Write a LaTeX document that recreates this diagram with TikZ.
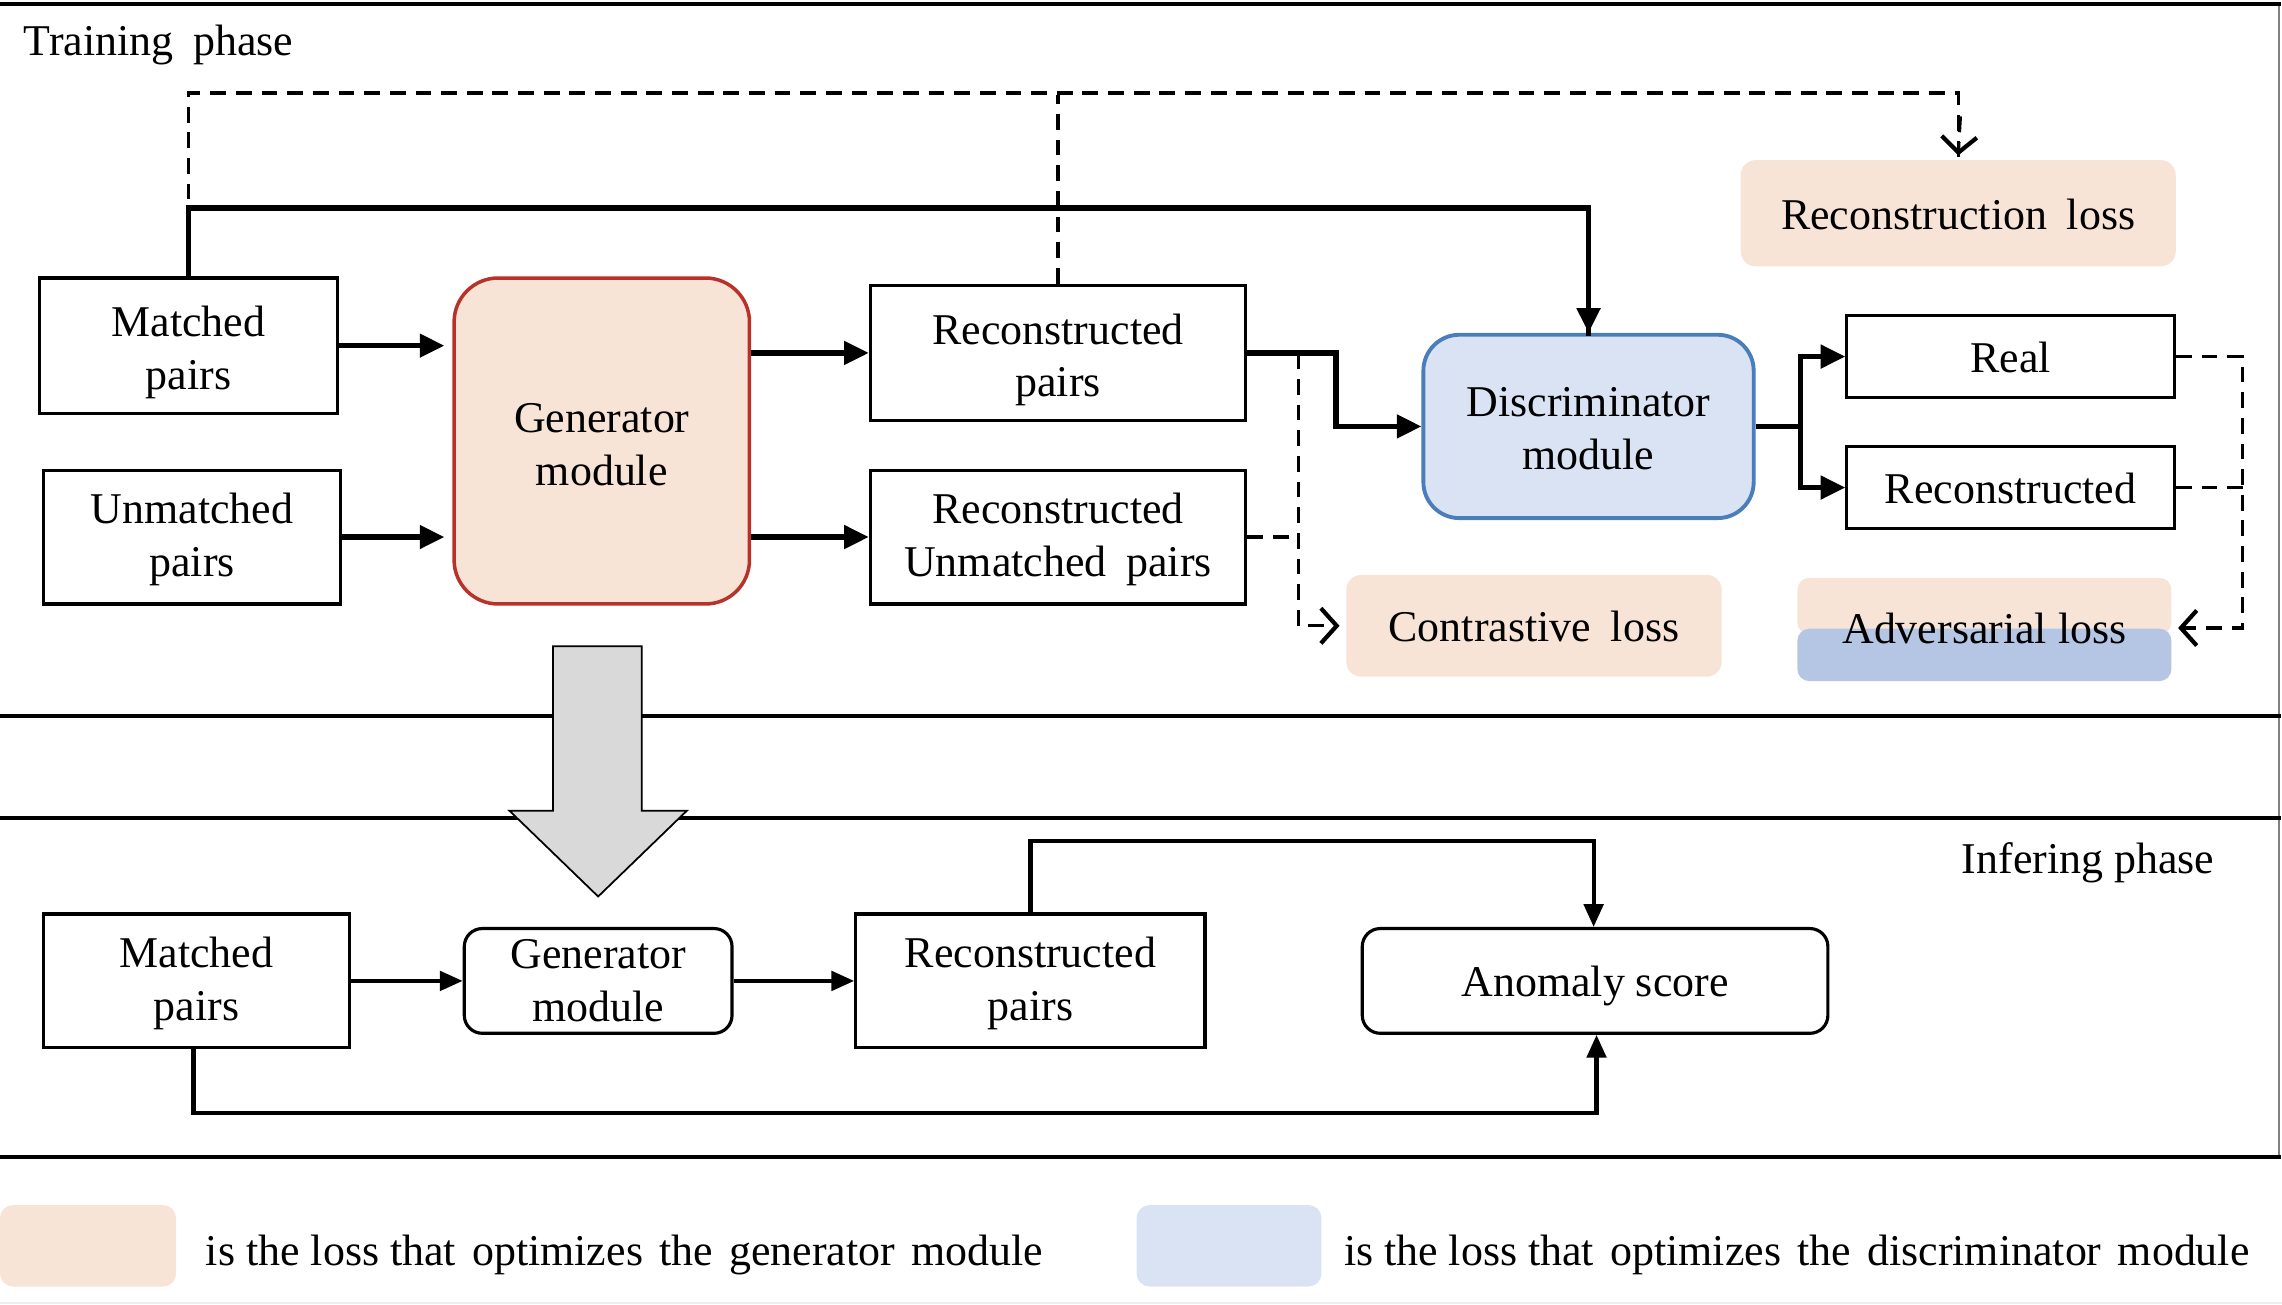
\documentclass[tikz,border=0pt]{standalone}
\usepackage{fontspec}
\setmainfont{Liberation Serif}
\usetikzlibrary{arrows.meta}
\newlength{\pxu}\setlength{\pxu}{0.14554mm}
\newcommand{\wsp}{\hspace{0.45em}}
\newcommand{\lsp}{\hspace{0.37em}}
\newcommand{\fstr}[1]{\rule{0pt}{#1}}
\definecolor{peach}{HTML}{F7E4D7}
\definecolor{genred}{HTML}{B8322A}
\definecolor{lblue}{HTML}{DAE3F3}
\definecolor{dblue}{HTML}{4A7EBB}
\definecolor{advblue}{HTML}{B4C6E4}
\definecolor{arrgray}{HTML}{D9D9D9}
\tikzset{
  every node/.style={font=\fontsize{12.5}{15}\selectfont, inner sep=0pt, align=center},
  one/.style={text height=11pt, text depth=2pt},
  box/.style={draw, line width=0.9pt},
  genbox/.style={draw=genred, fill=peach, line width=1pt, rounded corners=4.4mm},
  discbox/.style={draw=dblue, fill=lblue, line width=1.1pt, rounded corners=3.6mm},
  smallround/.style={draw, line width=0.9pt, rounded corners=1.8mm},
  lossbox/.style={fill=peach, rounded corners=1.5mm},
  arr/.style={line width=1.5pt, -{Triangle[length=7pt,width=6.5pt]}},
  thinarr/.style={line width=1.2pt, -{Triangle[length=6.5pt,width=5.5pt]}},
  thick line/.style={line width=1.5pt},
  dline/.style={line width=0.9pt, dash pattern=on 4.5pt off 2.8pt},
  darr/.style={dline, -{Straight Barb[length=4.5pt,width=10pt,line width=1.2pt]}},
  frame/.style={line width=1.1pt},
}
\begin{document}
\begin{tikzpicture}[x=0.014554cm, y=-0.014554cm]
\useasboundingbox (0,0) rectangle (1568,896);

% frames
\draw[gray, line width=0.5pt] (1566,3) -- (1566,795);
\draw[frame] (0,3) -- (1567,3);
\draw[frame] (0,492) -- (1567,492);
\draw[frame] (0,562) -- (1567,562);
\draw[frame] (0,795) -- (1567,795);
\draw[gray!12, line width=0.6pt] (0,895) -- (1568,895);

\node[one, anchor=west] (ttl1) at (16,27) {Training\wsp phase};
\node[one, anchor=east] (ttl2) at (1522,589) {Infering phase};

% training nodes
\node[box, minimum width=205*\pxu, minimum height=93*\pxu] (mp1) at (129.5,237.5) {\fstr{12.6pt}Matched\\pairs};
\node[box, minimum width=204*\pxu, minimum height=92*\pxu] (up) at (132,369) {\fstr{10.2pt}Unmatched\\pairs};
\node[genbox, minimum width=203*\pxu, minimum height=224*\pxu] (gen) at (413.5,303) {\fstr{10.2pt}Generator\\module};
\node[box, minimum width=258*\pxu, minimum height=93*\pxu] (rp) at (727,242.5) {\fstr{12.6pt}Reconstructed\\pairs};
\node[box, minimum width=258*\pxu, minimum height=92*\pxu] (rup) at (727,369) {\fstr{10.2pt}Reconstructed\\Unmatched\wsp pairs};
\node[discbox, minimum width=227*\pxu, minimum height=126*\pxu] (disc) at (1091.5,293) {\fstr{9.4pt}Discriminator\\module};
\node[box, one, minimum width=225*\pxu, minimum height=56*\pxu] (real) at (1381.5,245) {Real};
\node[box, one, minimum width=225*\pxu, minimum height=56*\pxu] (rec) at (1381.5,335) {Reconstructed};
\node[lossbox, one, minimum width=299*\pxu, minimum height=73*\pxu] (recloss) at (1345.5,146.5) {Reconstruction\wsp loss};
\node[lossbox, one, minimum width=258*\pxu, minimum height=70*\pxu] (contr) at (1054,430) {Contrastive\wsp loss};
\fill[peach, rounded corners=1.2mm] (1235,397) rectangle (1492,436);
\fill[advblue, rounded corners=1.2mm] (1235,432) rectangle (1492,468);
\node[one, minimum width=257*\pxu, minimum height=71*\pxu] (adv) at (1363.5,431.5) {Adversarial loss};

% training connectors
\draw[dline] (mp1.north) -- ++(0,-126) -| (recloss.north);
\draw[darr] (1347,80) -- ([yshift=0.4mm]recloss.north);
\draw[dline] (rp.north) -- (rp.north |- 0,65);
\draw[thick line] (mp1.north) -- ++(0,-47) -| ([yshift=-1pt]disc.north);
\draw[arr] (1091.5,200) -- (disc.north);
\draw[arr] (mp1.east) -- ([xshift=-0.8mm]gen.west |- mp1.east);
\draw[arr] (up.east) -- ([xshift=-0.8mm]gen.west |- up.east);
\draw[arr] (gen.east |- rp.west) -- (rp.west);
\draw[arr] (gen.east |- rup.west) -- (rup.west);
\draw[darr] (rp.east) -- ++(35,0) |- ([xshift=-0.6mm]contr.west);
\draw[dline] (rup.east) -- ++(35,0);
\draw[arr] (rp.east) -- ++(61,0) |- (disc.west);
\draw[thick line] (disc.east) -- ++(31,0);
\draw[arr] ([xshift=31*\pxu]disc.east) |- (real.west);
\draw[arr] ([xshift=31*\pxu]disc.east) |- (rec.west);
\draw[darr] (real.east) -- ++(46,0) |- ([xshift=0.6mm]adv.east);
\draw[dline] (rec.east) -- ++(46,0);

% big transfer arrow
\draw[fill=arrgray, line width=0.5pt] (380,444) -- (441,444) -- (441,557) -- (472,557) -- (411,616) -- (350,557) -- (380,557) -- cycle;

% inferring nodes
\node[box, minimum width=210*\pxu, minimum height=92*\pxu] (mp2) at (135,674) {\fstr{10.2pt}Matched\\pairs};
\node[smallround, minimum width=184*\pxu, minimum height=72*\pxu] (gen2) at (411,674) {Generator\\module};
\node[box, minimum width=240*\pxu, minimum height=92*\pxu] (rp2) at (708,674) {\fstr{10.2pt}Reconstructed\\pairs};
\node[smallround, one, minimum width=320*\pxu, minimum height=72*\pxu] (anom) at (1096,674) {Anomaly score};

\draw[thinarr] (mp2.east) -- (gen2.west);
\draw[thinarr] (gen2.east) -- (rp2.west);
\draw[thinarr] (rp2.north) -- ++(0,-49) -| ([xshift=-1*\pxu]anom.north);
\draw[thinarr] (mp2.south -| 133,0) -- (133,765) -| ([xshift=1*\pxu]anom.south);

% legend
\fill[peach, rounded corners=1.3mm] (0,828) rectangle (121,884);
\fill[lblue, rounded corners=1.3mm] (781,828) rectangle (908,884);
\node[one, anchor=west] (leg1) at (141,859) {is the loss that\lsp optimizes\lsp the\lsp generator\lsp module};
\node[one, anchor=west] (leg2) at (923,859) {is the loss that\lsp optimizes\lsp the\lsp discriminator\lsp module};
\end{tikzpicture}
\end{document}
